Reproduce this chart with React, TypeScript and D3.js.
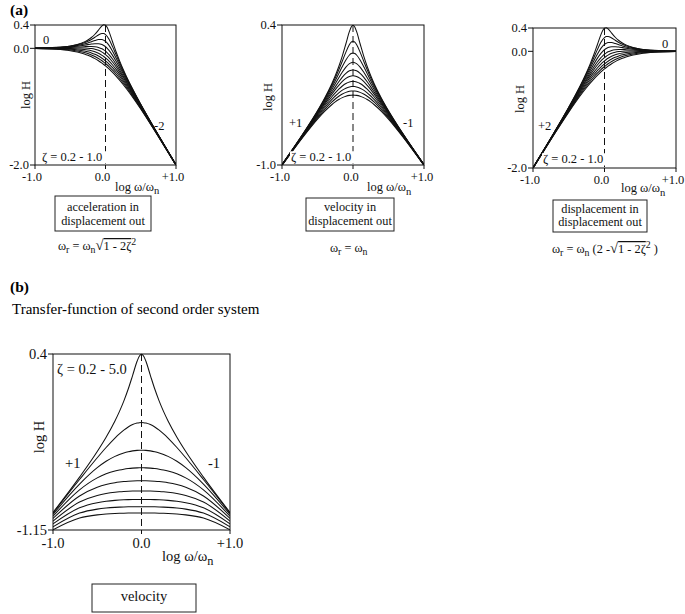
import React from "react";
import * as d3 from "d3";

// ---- data ----
const X_TICKS = [-1, 0, 1];
const X_TICK_LABELS = ["-1.0", "0.0", "+1.0"];

// |log ω/ωn| sample positions (curves are symmetric in velocity form)
const OFFSETS = [0, 0.025, 0.05, 0.1, 0.15, 0.2, 0.25, 0.3, 0.4, 0.5, 0.7, 1.0];

// (a) damping ratios ζ = 0.2 - 1.0
const ZETA_A = [0.2, 0.29, 0.38, 0.47, 0.56, 0.64, 0.73, 0.82, 0.91, 1.0];
// log H of velocity response at OFFSETS, one row per ζ
const VELOCITY_A = [
  [0.3979, 0.3806, 0.3356, 0.2125, 0.0914, -0.0147, -0.1072, -0.1894, -0.3327, -0.4585, -0.6839, -0.996],
  [0.2366, 0.2282, 0.2047, 0.1289, 0.0397, -0.0478, -0.1294, -0.2049, -0.3408, -0.4631, -0.6855, -0.9964],
  [0.1192, 0.1142, 0.1, 0.0502, -0.0155, -0.0862, -0.1565, -0.2243, -0.3515, -0.4692, -0.6877, -0.9969],
  [0.0269, 0.0236, 0.0142, -0.0206, -0.0699, -0.1269, -0.1867, -0.2468, -0.3642, -0.4767, -0.6905, -0.9976],
  [-0.0492, -0.0515, -0.0582, -0.0837, -0.1216, -0.1677, -0.2183, -0.2712, -0.3788, -0.4855, -0.6938, -0.9984],
  [-0.1072, -0.109, -0.1142, -0.1341, -0.1647, -0.2031, -0.2469, -0.2939, -0.3929, -0.4942, -0.6972, -0.9992],
  [-0.1644, -0.1657, -0.1697, -0.1853, -0.2098, -0.2416, -0.2788, -0.3199, -0.4098, -0.505, -0.7015, -1.0003],
  [-0.2148, -0.2159, -0.2191, -0.2316, -0.2516, -0.2781, -0.31, -0.3461, -0.4274, -0.5165, -0.7062, -1.0015],
  [-0.2601, -0.2609, -0.2635, -0.2738, -0.2904, -0.3128, -0.3402, -0.3719, -0.4455, -0.5287, -0.7114, -1.0028],
  [-0.301, -0.3018, -0.3039, -0.3124, -0.3264, -0.3455, -0.3693, -0.3973, -0.4639, -0.5414, -0.717, -1.0043],
];

// (b) damping ratios ζ = 0.2 - 5.0
const ZETA_B = [0.2, 0.8, 1.4, 2.0, 2.6, 3.2, 3.8, 4.4, 5.0];
const VELOCITY_B = [
  [0.3979, 0.3806, 0.3356, 0.2125, 0.0914, -0.0147, -0.1072, -0.1894, -0.3327, -0.4585, -0.6839, -0.996],
  [-0.2041, -0.2052, -0.2086, -0.2217, -0.2426, -0.2702, -0.3031, -0.3403, -0.4234, -0.5139, -0.7051, -1.0012],
  [-0.4472, -0.4475, -0.4486, -0.4531, -0.4605, -0.471, -0.4847, -0.5016, -0.5451, -0.6012, -0.7457, -1.0123],
  [-0.6021, -0.6022, -0.6028, -0.605, -0.6087, -0.6141, -0.6213, -0.6304, -0.6555, -0.691, -0.7964, -1.0285],
  [-0.716, -0.7161, -0.7164, -0.7177, -0.72, -0.7232, -0.7276, -0.7332, -0.7492, -0.7729, -0.8503, -1.0485],
  [-0.8062, -0.8063, -0.8065, -0.8073, -0.8088, -0.811, -0.8139, -0.8177, -0.8287, -0.8454, -0.9035, -1.0715],
  [-0.8808, -0.8809, -0.881, -0.8816, -0.8827, -0.8842, -0.8863, -0.8891, -0.897, -0.9093, -0.954, -1.0962],
  [-0.9445, -0.9445, -0.9446, -0.9451, -0.9459, -0.947, -0.9486, -0.9507, -0.9567, -0.9661, -1.0013, -1.1221],
  [-1.0, -1.0001, -1.0001, -1.0005, -1.0011, -1.002, -1.0032, -1.0048, -1.0095, -1.0169, -1.0452, -1.1483],
];

// ---- layout ----
const FONT = "'Liberation Serif', 'Times New Roman', serif";

type Panel = {
  x0: number; x1: number; y0: number; y1: number;
  yDomain: [number, number];
  yTicks: number[]; yTickLabels: string[];
  order: number; // -1 acceleration, 0 velocity, +1 displacement (asymptotic tilt relative to velocity)
  rows: number[][];
  fs: number;
  xLabelDx: number;
  logH: [number, number];
  xTitle: [number, number];
  zeta: { text: string; x: number; y: number; bg: boolean };
  slopes: { t: string; x: number; y: number }[];
};

const PANELS: Panel[] = [
  {
    x0: 35, x1: 176, y0: 25, y1: 165, yDomain: [-2, 0.4],
    yTicks: [0.4, 0, -2], yTickLabels: ["0.4", "0.0", "-2.0"], order: -1, rows: VELOCITY_A,
    fs: 12.5, xLabelDx: -3, logH: [30, 95], xTitle: [115, 190.5],
    zeta: { text: "ζ = 0.2 - 1.0", x: 42, y: 161, bg: true },
    slopes: [{ t: "0", x: 43, y: 44 }, { t: "-2", x: 154, y: 130 }],
  },
  {
    x0: 282, x1: 424, y0: 25, y1: 165, yDomain: [-1, 0.4],
    yTicks: [0.4, -1], yTickLabels: ["0.4", "-1.0"], order: 0, rows: VELOCITY_A,
    fs: 12.5, xLabelDx: -2, logH: [272, 97], xTitle: [367, 191],
    zeta: { text: "ζ = 0.2 - 1.0", x: 291, y: 161, bg: true },
    slopes: [{ t: "+1", x: 289, y: 127 }, { t: "-1", x: 403, y: 127 }],
  },
  {
    x0: 533, x1: 676, y0: 28, y1: 168, yDomain: [-2, 0.4],
    yTicks: [0.4, 0, -2], yTickLabels: ["0.4", "0.0", "-2.0"], order: 1, rows: VELOCITY_A,
    fs: 12.5, xLabelDx: -3, logH: [524, 99], xTitle: [621, 192],
    zeta: { text: "ζ = 0.2 - 1.0", x: 543, y: 163, bg: true },
    slopes: [{ t: "0", x: 662, y: 48 }, { t: "+2", x: 538, y: 130 }],
  },
  {
    x0: 53, x1: 230, y0: 354, y1: 530, yDomain: [-1.15, 0.4],
    yTicks: [0.4, -1.15], yTickLabels: ["0.4", "-1.15"], order: 0, rows: VELOCITY_B,
    fs: 14.5, xLabelDx: 0, logH: [44, 437], xTitle: [162, 560.5],
    zeta: { text: "ζ = 0.2 - 5.0", x: 57, y: 374, bg: false },
    slopes: [{ t: "+1", x: 65, y: 468 }, { t: "-1", x: 208, y: 468 }],
  },
];

function buildSeries(row: number[], order: number): [number, number][] {
  const pts: [number, number][] = [];
  for (let i = OFFSETS.length - 1; i >= 1; i--) pts.push([-OFFSETS[i], row[i] + order * -OFFSETS[i]]);
  for (let i = 0; i < OFFSETS.length; i++) pts.push([OFFSETS[i], row[i] + order * OFFSETS[i]]);
  return pts;
}

function PanelView({ p, id }: { p: Panel; id: number }) {
  const x = d3.scaleLinear().domain([-1, 1]).range([p.x0, p.x1]);
  const y = d3.scaleLinear().domain(p.yDomain).range([p.y1, p.y0]);
  const line = d3
    .line<[number, number]>()
    .x((d) => x(d[0]))
    .y((d) => y(d[1]))
    .curve(d3.curveMonotoneX);
  const zw = p.fs * 5.35;
  return (
    <g fontFamily={FONT} fontSize={p.fs} fill="#111">
      <defs>
        <clipPath id={`clip${id}`}>
          <rect x={p.x0} y={p.y0 - 1} width={p.x1 - p.x0} height={p.y1 - p.y0 + 1} />
        </clipPath>
      </defs>
      <g clipPath={`url(#clip${id})`}>
        {p.rows.map((row, i) => (
          <path key={i} d={line(buildSeries(row, p.order)) || ""} fill="none" stroke="#111" strokeWidth={1.05} />
        ))}
      </g>
      <line x1={x(0)} x2={x(0)} y1={p.y0} y2={p.y1} stroke="#111" strokeWidth={1} strokeDasharray="7,4" />
      {p.zeta.bg && (
        <rect x={p.zeta.x - 1} y={p.zeta.y - p.fs * 0.78} width={zw} height={p.fs * 0.98} fill="#fff" />
      )}
      <text x={p.zeta.x} y={p.zeta.y}>{p.zeta.text}</text>
      <rect x={p.x0} y={p.y0} width={p.x1 - p.x0} height={p.y1 - p.y0} fill="none" stroke="#111" strokeWidth={1} />
      {p.yTicks.map((t, i) => (
        <g key={i}>
          <line x1={p.x0 - 5} x2={p.x0} y1={y(t)} y2={y(t)} stroke="#111" />
          <text x={p.x0 - 6} y={y(t)} dy="0.35em" textAnchor="end">{p.yTickLabels[i]}</text>
        </g>
      ))}
      {X_TICKS.map((t, i) => (
        <g key={i}>
          <line x1={x(t)} x2={x(t)} y1={p.y1} y2={p.y1 + 4} stroke="#111" />
          <text x={x(t) + p.xLabelDx} y={p.y1 + p.fs + 3} textAnchor="middle">{X_TICK_LABELS[i]}</text>
        </g>
      ))}
      <text transform={`translate(${p.logH[0]},${p.logH[1]}) rotate(-90)`} textAnchor="middle">log H</text>
      <text x={p.xTitle[0]} y={p.xTitle[1]}>
        log ω/ω<tspan dy={p.fs * 0.3} fontSize={p.fs * 0.85}>n</tspan>
      </text>
      {p.slopes.map((s, i) => (
        <text key={i} x={s.x} y={s.y}>{s.t}</text>
      ))}
    </g>
  );
}

function LabelBox({ x, y, w, h, lines, fs, base }: { x: number; y: number; w: number; h: number; lines: string[]; fs: number; base: number[] }) {
  return (
    <g fontFamily={FONT} fontSize={fs} fill="#111">
      <rect x={x} y={y} width={w} height={h} fill="none" stroke="#222" strokeWidth={1} />
      {lines.map((l, i) => (
        <text key={i} x={x + w / 2} y={base[i]} textAnchor="middle">{l}</text>
      ))}
    </g>
  );
}

export default function App() {
  const fs = 12.3;
  return (
    <svg width={685} height={614} style={{ position: "absolute", left: 0, top: 0, background: "#fff" }}>
      <rect width={685} height={614} fill="#fff" />
      <text x={10} y={15} fontFamily={FONT} fontWeight="bold" fontSize={15.5}>(a)</text>
      <text x={10} y={292} fontFamily={FONT} fontWeight="bold" fontSize={15.5}>(b)</text>
      <text x={12} y={314} fontFamily={FONT} fontSize={15}>Transfer-function of second order system</text>
      {PANELS.map((p, i) => (
        <PanelView key={i} p={p} id={i} />
      ))}
      <LabelBox x={55} y={196} w={96} h={35} lines={["acceleration in", "displacement out"]} fs={fs} base={[211, 225]} />
      <LabelBox x={306} y={198} w={88} h={33} lines={["velocity in", "displacement out"]} fs={fs} base={[211, 225]} />
      <LabelBox x={553} y={200} w={94} h={32} lines={["displacement in", "displacement out"]} fs={fs} base={[213, 226]} />
      <LabelBox x={92} y={584} w={104} h={28} lines={["velocity"]} fs={14.5} base={[601]} />
      <g fontFamily={FONT} fontSize={fs} fill="#111">
        <text x={58} y={250}>
          ω<tspan dy={3} fontSize={fs * 0.8}>r</tspan>
          <tspan dy={-3}> = ω</tspan>
          <tspan dy={3} fontSize={fs * 0.8}>n</tspan>
          <tspan dy={-3} fontSize={fs * 1.2}>√</tspan>
          <tspan style={{ textDecoration: "overline" }}>1 - 2ζ</tspan>
          <tspan dy={-5} fontSize={fs * 0.8}>2</tspan>
        </text>
        <text x={330} y={252}>
          ω<tspan dy={3} fontSize={fs * 0.8}>r</tspan>
          <tspan dy={-3}> = ω</tspan>
          <tspan dy={3} fontSize={fs * 0.8}>n</tspan>
        </text>
        <text x={552} y={253}>
          ω<tspan dy={3} fontSize={fs * 0.8}>r</tspan>
          <tspan dy={-3}> = ω</tspan>
          <tspan dy={3} fontSize={fs * 0.8}>n</tspan>
          <tspan dy={-3}> (2 -</tspan>
          <tspan fontSize={fs * 1.2}>√</tspan>
          <tspan style={{ textDecoration: "overline" }}>1 - 2ζ</tspan>
          <tspan dy={-5} fontSize={fs * 0.8}>2</tspan>
          <tspan dy={5}> )</tspan>
        </text>
      </g>
    </svg>
  );
}
